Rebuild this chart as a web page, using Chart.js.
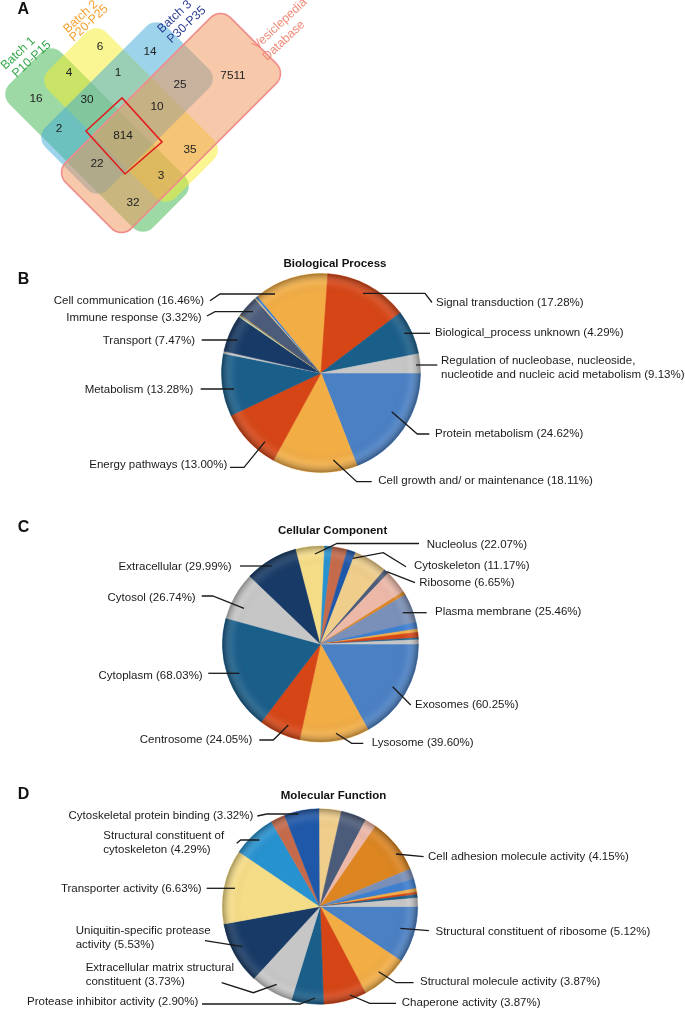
<!DOCTYPE html>
<html><head><meta charset="utf-8">
<script src="https://cdn.jsdelivr.net/npm/chart.js@4.4.1/dist/chart.umd.min.js"></script>
<style>
html,body{margin:0;padding:0;background:#fff;}
body{width:685px;height:1011px;position:relative;overflow:hidden;}
canvas{position:absolute;left:0;}
</style></head><body>
<canvas id="venn" width="685" height="250" style="top:0px"></canvas>
<canvas id="pieB" width="685" height="250" style="top:250px"></canvas>
<canvas id="pieC" width="685" height="260" style="top:500px"></canvas>
<canvas id="pieD" width="685" height="251" style="top:760px"></canvas>
<script>
// ---------------- DATA ----------------
// Venn (panel A)
const vennSetNames = [['Batch 1','P10-P15'],['Batch 2','P20-P25'],['Batch 3','P30-P35'],['Vesiclepedia','Database']];
const vennRegions = ['B1','B2','B3','DB','B1∩B2','B2∩B3','B3∩DB','B1∩B2∩B3','B2∩B3∩DB','B1∩B3','All','B2∩DB','B1∩B3∩DB','B1∩B2∩DB','B1∩DB'];
const vennCounts = [16, 6, 14, 7511, 4, 1, 25, 30, 10, 2, 814, 35, 22, 3, 32];

// Panel B: Biological Process (slice shares, label percentages as printed)
const bpCategories = ['Protein metabolism','Cell growth and/ or maintenance','Energy pathways','Metabolism','Other a','Transport','Other b','Other c','Other d','Immune response','Other e','Other f','Cell communication','Signal transduction','Biological_process unknown','Regulation of nucleobase, nucleoside, nucleotide and nucleic acid metabolism'];
const bpShares = [19.0, 13.8, 10.0, 10.1, 0.4, 6.0, 0.15, 0.15, 0.15, 3.4, 0.2, 0.4, 12.0, 13.5, 7.2, 3.1];
const bpPercents = [24.62, 18.11, 13.00, 13.28, null, 7.47, null, null, null, 3.32, null, null, 16.46, 17.28, 4.29, 9.13];

// Panel C: Cellular Component
const ccCategories = ['Exosomes','Lysosome','Centrosome','Cytoplasm','Cytosol','Extracellular','Nucleolus','Other a','Cytoskeleton','Other b','Other c','Ribosome','Other d','Other e','Plasma membrane','Other f','Other g','Other h','Other i','Other j'];
const ccShares = [16.9, 11.5, 6.9, 18.9, 7.9, 8.8, 4.7, 1.25, 2.5, 1.4, 5.5, 0.8, 3.9, 0.6, 4.8, 1.1, 0.55, 0.9, 0.3, 0.7];
const ccPercents = [60.25, 39.60, 24.05, 68.03, 26.74, 29.99, 22.07, null, 11.17, null, null, 6.65, null, null, 25.46, null, null, null, null, null];

// Panel D: Molecular Function
const mfCategories = ['Structural constituent of ribosome','Structural molecule activity','Chaperone activity','Protease inhibitor activity','Extracellular matrix structural constituent','Uniquitin-specific protease activity','Transporter activity','Structural constituent of cytoskeleton','Other a','Cytoskeletal protein binding','Other b','Other c','Other d','Cell adhesion molecule activity','Other e','Other f','Other g','Other h','Other i','Other j'];
const mfShares = [9.4, 7.9, 7.1, 5.3, 7.1, 10.3, 12.3, 7.25, 2.4, 5.8, 3.6, 4.2, 1.9, 9.1, 1.7, 1.6, 0.6, 0.4, 0.55, 1.4];
const mfPercents = [5.12, 3.87, 3.87, 2.90, 3.73, 5.53, 6.63, 4.29, null, 3.32, null, null, null, 4.15, null, null, null, null, null, null];

// ---------------- STYLE / LAYOUT ----------------
const FONT = '"Liberation Sans", Arial, Helvetica, sans-serif';
const C = {steel:'#4a80c4', gold:'#f2ad45', red:'#d64515', teal:'#1a5e8a', navy:'#173a66', gray:'#c6c6c6',
  lyel:'#f5dc86', lblue:'#2792d0', brown:'#c56a4a', royal:'#1f57a9', tan:'#efcd8a', slate:'#4b5b7a',
  pink:'#ecb8a8', orange:'#dc8521', sblue:'#7a90b8', mblue:'#3f7fcf', cyan:'#6cc3e0'};
const bpColors = [C.steel,C.gold,C.red,C.teal,C.gray,C.navy,C.lyel,C.cyan,C.orange,C.slate,C.tan,C.mblue,C.gold,C.red,C.teal,C.gray];
const ccColors = [C.steel,C.gold,C.red,C.teal,C.gray,C.navy,C.lyel,C.lblue,C.brown,C.royal,C.tan,C.slate,C.pink,C.orange,C.sblue,C.mblue,C.gold,C.red,C.teal,C.gray];
const mfColors = [C.steel,C.gold,C.red,C.teal,C.gray,C.navy,C.lyel,C.lblue,C.brown,C.royal,C.tan,C.slate,C.pink,C.orange,C.sblue,C.mblue,C.gold,C.red,C.teal,C.gray];

const vennCountPos = [[36,99],[100,47],[150,52],[233,76],[69,73],[118,73],[180,85],[87,100],[157,107],[59,129],[123,136],[190,150],[97,164],[161,176],[133,203]];
const vennShapes = [
  {cx:97, cy:140, len:203, wid:73, ang:45, fill:'rgba(60,180,75,0.5)'},
  {cx:131, cy:115, len:180, wid:82, ang:45, fill:'rgba(245,238,40,0.5)'},
  {cx:127, cy:108, len:171, wid:88, ang:-45, fill:'rgba(60,170,215,0.5)'},
  {cx:171, cy:123, len:233, wid:93, ang:-45, fill:'rgba(240,150,90,0.52)', stroke:'#f08a8a'}
];
const vennLabelPos = [[[18.3,53.3],[31.7,59.3]],[[80.7,16.7],[89,23.3]],[[174.7,16.7],[186.7,25]],[[280,24],[284,40.7]]];
const vennLabelColors = ['#35a84a','#f4a030','#2e3f94','#f08a78'];
const vennFocus = [[86,131],[122,98],[162,142],[125,174]];

const bpLayout = [
  {i:12, x:204, y:[300.7], a:'right', p:[[210,300.7],[220,294],[275,294]]},
  {i:13, x:436, y:[303], a:'left', p:[[363,293.3],[425,293.3],[432,302.5]]},
  {i:9, x:201.7, y:[318.3], a:'right', p:[[207,316],[215,311.7],[253,311.7]]},
  {i:14, x:435, y:[332.7], a:'left', p:[[404,333.3],[430,333.3]]},
  {i:5, x:195, y:[341], a:'right', p:[[201.7,340],[237.3,340]]},
  {i:15, x:441, y:[361,375], a:'left', brk:'nucleoside,', p:[[416,365],[437.3,365]]},
  {i:3, x:193.3, y:[390], a:'right', p:[[200.7,389],[234,389]]},
  {i:0, x:435, y:[434.3], a:'left', p:[[391.7,411.7],[417.3,434],[429.3,434]]},
  {i:2, x:227.3, y:[465], a:'right', p:[[230,467.3],[244,467.3],[265,441.7]]},
  {i:1, x:378.3, y:[481], a:'left', p:[[333.3,460],[356.7,481.7],[371.7,481.7]]}
];
const ccLayout = [
  {i:6, x:426.7, y:[545], a:'left', p:[[315,554],[337,543.5],[419,543.5]]},
  {i:5, x:231.7, y:[566.7], a:'right', p:[[240,566],[271.7,566]]},
  {i:8, x:414, y:[566], a:'left', p:[[352.7,558.3],[383.3,552.7],[406,566.7]]},
  {i:11, x:419.3, y:[583.3], a:'left', p:[[386.7,571.7],[415,582.7]]},
  {i:4, x:195.7, y:[597.7], a:'right', p:[[201.7,596],[212.7,596],[244,608.3]]},
  {i:14, x:435, y:[611.7], a:'left', p:[[402.7,612.7],[426.7,612.7]]},
  {i:3, x:202.7, y:[675.7], a:'right', p:[[208.3,673.3],[239.3,673.3]]},
  {i:0, x:415, y:[705], a:'left', p:[[392.7,686.7],[410.7,705]]},
  {i:2, x:252.3, y:[740], a:'right', p:[[259.3,740],[273.3,740],[288.3,725]]},
  {i:1, x:371.7, y:[743.3], a:'left', p:[[336,733.3],[351.7,743.3],[363.3,743.3]]}
];
const mfLayout = [
  {i:9, x:253.3, y:[816], a:'right', p:[[257.3,816],[266.7,814],[298.3,814]]},
  {i:7, x:103.3, y:[836,850], a:'left', brk:'of', p:[[236.7,843.3],[240.7,840],[259.3,840]]},
  {i:13, x:428, y:[856.7], a:'left', p:[[396,854],[423.6,856.7]]},
  {i:6, x:201.7, y:[889.3], a:'right', p:[[206.7,888.3],[235,888.3]]},
  {i:0, x:435.5, y:[931.7], a:'left', p:[[400.4,928.3],[428.9,930.7]]},
  {i:5, x:75.7, y:[931,945], a:'left', brk:'protease', p:[[205,940.7],[242.7,946.7]]},
  {i:4, x:85.7, y:[968.3,982.3], a:'left', brk:'structural', p:[[221.7,982.7],[253.3,992.7],[276.7,984.3]]},
  {i:1, x:420, y:[981.7], a:'left', p:[[378.6,971.7],[396,982.7],[413.6,982.7]]},
  {i:3, x:198.3, y:[1002.3], a:'right', p:[[202,1004],[300,1004],[315,998]]},
  {i:2, x:401.8, y:[1002.7], a:'left', p:[[350,995],[369.8,1003.3],[396,1003.3]]}
];

// ---------------- HELPERS ----------------
function roundRectPath(ctx, x, y, w, h, r){
  ctx.beginPath();
  ctx.moveTo(x+r, y);
  ctx.lineTo(x+w-r, y); ctx.arcTo(x+w, y, x+w, y+r, r);
  ctx.lineTo(x+w, y+h-r); ctx.arcTo(x+w, y+h, x+w-r, y+h, r);
  ctx.lineTo(x+r, y+h); ctx.arcTo(x, y+h, x, y+h-r, r);
  ctx.lineTo(x, y+r); ctx.arcTo(x, y, x+r, y, r);
  ctx.closePath();
}
function letter(ctx, t, x, y){
  ctx.font = 'bold 16px ' + FONT; ctx.fillStyle = '#111';
  ctx.textAlign = 'center'; ctx.textBaseline = 'middle';
  ctx.fillText(t, x, y);
}

// ---------------- VENN ----------------
const vennPlugin = {
  id:'vennShapes',
  beforeDatasetsDraw(chart){
    const ctx = chart.ctx, sx = chart.scales.x, sy = chart.scales.y;
    const k = sx.getPixelForValue(1) - sx.getPixelForValue(0);
    vennShapes.forEach(s => {
      ctx.save();
      ctx.translate(sx.getPixelForValue(s.cx), sy.getPixelForValue(s.cy));
      ctx.rotate(s.ang*Math.PI/180);
      roundRectPath(ctx, -s.len*k/2, -s.wid*k/2, s.len*k, s.wid*k, 14*k);
      ctx.fillStyle = s.fill; ctx.fill();
      if (s.stroke){ ctx.lineWidth = 1.5; ctx.strokeStyle = s.stroke; ctx.stroke(); }
      ctx.restore();
    });
    ctx.save();
    ctx.beginPath();
    vennFocus.forEach((p,j)=>{ const X=sx.getPixelForValue(p[0]), Y=sy.getPixelForValue(p[1]); j?ctx.lineTo(X,Y):ctx.moveTo(X,Y); });
    ctx.closePath(); ctx.lineWidth = 1.6; ctx.strokeStyle = '#e01e1e'; ctx.stroke();
    ctx.restore();
  },
  afterDatasetsDraw(chart){
    const ctx = chart.ctx, sx = chart.scales.x, sy = chart.scales.y;
    const meta = chart.getDatasetMeta(0);
    ctx.save();
    ctx.font = '11.8px ' + FONT; ctx.fillStyle = '#222';
    ctx.textAlign = 'center'; ctx.textBaseline = 'middle';
    meta.data.forEach((pt, j) => ctx.fillText(String(vennCounts[j]), pt.x, pt.y));
    vennSetNames.forEach((lines, s) => {
      lines.forEach((t, l) => {
        const p = vennLabelPos[s][l];
        ctx.save();
        ctx.translate(sx.getPixelForValue(p[0]), sy.getPixelForValue(p[1]));
        ctx.rotate(-43*Math.PI/180);
        ctx.fillStyle = vennLabelColors[s];
        ctx.font = '12.3px ' + FONT;
        ctx.fillText(t, 0, 0);
        ctx.restore();
      });
    });
    letter(ctx, 'A', 23.3, 9.5);
    ctx.restore();
  }
};
new Chart(document.getElementById('venn'), {
  type:'scatter',
  data:{ labels: vennRegions, datasets:[{ data: vennCounts.map((v,j)=>({x:vennCountPos[j][0], y:vennCountPos[j][1]})), pointRadius:0 }]},
  options:{ responsive:false, animation:false, events:[], layout:{padding:0},
    scales:{ x:{display:false, min:0, max:685}, y:{display:false, min:0, max:250, reverse:true} },
    plugins:{ legend:{display:false}, tooltip:{enabled:false} } },
  plugins:[vennPlugin]
});

// ---------------- PIES ----------------
function makePie(id, top, H, cx, cy, r, cats, shares, pcts, colors, layout, title, titlePos, letterTxt, letterPos){
  const W = 685, ccy = cy - top;
  const deco = {
    id:'deco_'+id,
    afterDatasetsDraw(chart){
      const arc = chart.getDatasetMeta(0).data[0];
      const ctx = chart.ctx, x = arc.x, y = arc.y, R = arc.outerRadius;
      const g = ctx.createRadialGradient(x, y, 0, x, y, R);
      g.addColorStop(0, 'rgba(0,0,0,0)');
      g.addColorStop(0.8, 'rgba(0,0,0,0)');
      g.addColorStop(0.9, 'rgba(255,255,255,0.07)');
      g.addColorStop(1, 'rgba(0,0,0,0.33)');
      ctx.save(); ctx.beginPath(); ctx.arc(x, y, R, 0, Math.PI*2); ctx.fillStyle = g; ctx.fill(); ctx.restore();
    },
    afterDraw(chart){
      const ctx = chart.ctx;
      ctx.save();
      ctx.font = 'bold 11.5px ' + FONT; ctx.fillStyle = '#111';
      ctx.textAlign = 'center'; ctx.textBaseline = 'middle';
      ctx.fillText(title, titlePos[0], titlePos[1] - top);
      letter(ctx, letterTxt, letterPos[0], letterPos[1] - top);
      ctx.strokeStyle = '#1a1a1a'; ctx.lineWidth = 1.3; ctx.lineJoin = 'miter';
      ctx.font = '11.5px ' + FONT; ctx.fillStyle = '#1a1a1a';
      layout.forEach(L => {
        ctx.beginPath();
        L.p.forEach((q, j) => j ? ctx.lineTo(q[0], q[1]-top) : ctx.moveTo(q[0], q[1]-top));
        ctx.stroke();
        const full = cats[L.i] + ' (' + pcts[L.i].toFixed(2) + '%)';
        let lines = [full];
        if (L.brk){ const k = full.indexOf(L.brk) + L.brk.length; lines = [full.slice(0,k), full.slice(k).trim()]; }
        ctx.textAlign = L.a;
        lines.forEach((t, j) => ctx.fillText(t, L.x, L.y[j] - top));
      });
      ctx.restore();
    }
  };
  new Chart(document.getElementById(id), {
    type:'pie',
    data:{ labels: cats, datasets:[{ data: shares, backgroundColor: colors, borderColor: colors, borderWidth: 0.6 }]},
    options:{ responsive:false, animation:false, events:[], rotation: 90,
      layout:{ padding:{ left: cx - r, right: W - cx - r, top: ccy - r, bottom: H - ccy - r } },
      plugins:{ legend:{display:false}, tooltip:{enabled:false} } },
    plugins:[deco]
  });
}
makePie('pieB', 250, 250, 321, 373, 99.8, bpCategories, bpShares, bpPercents, bpColors, bpLayout, 'Biological Process', [335,264], 'B', [23.6,280]);
makePie('pieC', 500, 260, 320.5, 644, 98.3, ccCategories, ccShares, ccPercents, ccColors, ccLayout, 'Cellular Component', [332.6,531], 'C', [23.6,528]);
makePie('pieD', 760, 251, 320, 906.5, 98, mfCategories, mfShares, mfPercents, mfColors, mfLayout, 'Molecular Function', [333.5,795.7], 'D', [23.6,795]);
</script>
</body></html>
